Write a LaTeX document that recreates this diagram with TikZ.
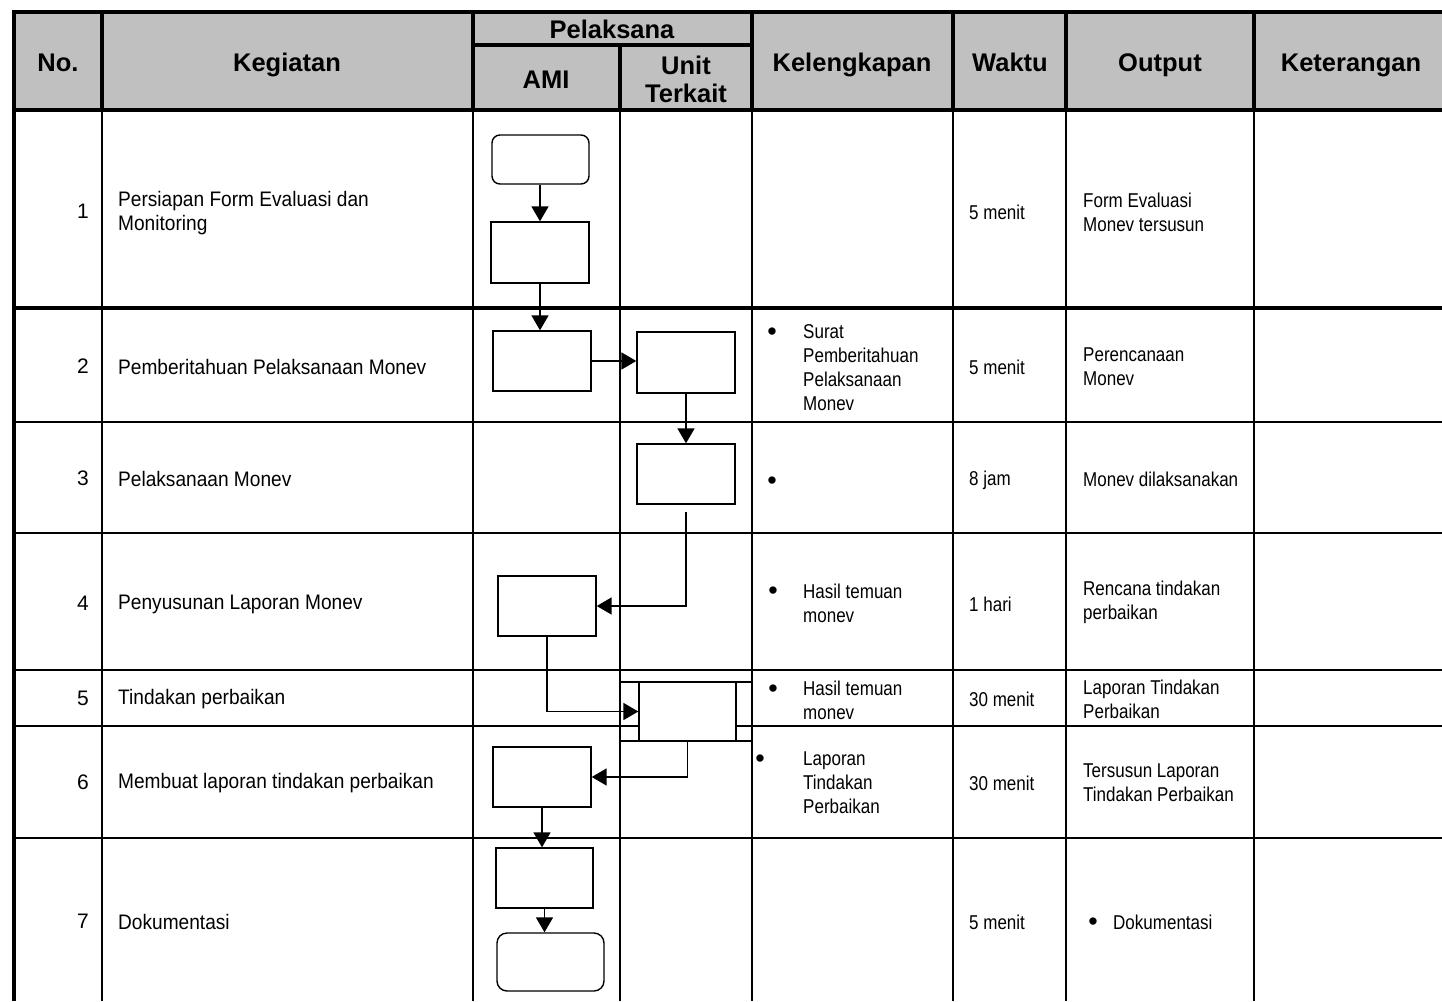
\documentclass[tikz,border=0pt]{standalone}
\usepackage{fontspec}
\setmainfont{Liberation Sans}
\newfontfamily\narrowfont{Liberation Sans}[FakeStretch=0.85]
\newfontfamily\kegfont{Liberation Sans}[FakeStretch=0.91]
\usetikzlibrary{arrows.meta}
\definecolor{hdrgray}{RGB}{192,192,192}

\tikzset{
  hdr/.style={font=\fontsize{25.5}{28}\selectfont\bfseries, align=center, inner sep=0},
  num/.style={font=\fontsize{21}{24}\selectfont, anchor=east, inner sep=0},
  keg/.style={font=\kegfont\fontsize{21}{24}\selectfont, anchor=west, align=left, inner sep=0},
  cell/.style={font=\narrowfont\fontsize{20}{24}\selectfont, anchor=west, align=left, inner sep=0},
  dot/.style={font=\fontsize{27}{30}\selectfont, anchor=base, inner sep=0},
  proc/.style={draw, line width=1.4pt, fill=white, minimum width=98pt, minimum height=60pt, inner sep=0},
  term/.style={proc, rounded corners=8pt},
  flow/.style={line width=1.8pt, -{Triangle[length=15pt,width=17pt]}},
  thickrule/.style={line width=3.2pt},
  rule/.style={line width=2.2pt},
}

\begin{document}
\begin{tikzpicture}[x=1pt, y=-1pt]
  \useasboundingbox (0,0) rectangle (1442,1001);
  \clip (0,0) rectangle (1442,1001);

  % table frame
  \fill[hdrgray] (14,12) rectangle (1449,110);
  \foreach \x in {102,473,620,752,953,1066,1254}
    \draw[rule] (\x,110) -- (\x,1001);
  \foreach \y in {422,533,670,726,838}
    \draw[rule] (14,\y) -- (1449,\y);
  \draw[thickrule] (14,308) -- (1449,308);
  \foreach \x in {102,473,752,953,1066,1254}
    \draw[thickrule] (\x,12) -- (\x,110);
  \draw[thickrule] (620,45) -- (620,110);
  \draw[thickrule] (473,45) -- (752,45);
  \draw[thickrule] (14,12) -- (1449,12);
  \draw[thickrule] (14,110) -- (1449,110);
  \draw[line width=3.5pt] (14,10) -- (14,1001);

  % header (single lines sit on the baseline)
  \node[hdr, anchor=base] (hno) at (58,71) {No.};
  \node[hdr, anchor=base] (hkeg) at (287,71) {Kegiatan};
  \node[hdr, anchor=base] (hpel) at (612,38) {Pelaksana};
  \node[hdr, anchor=base] (hami) at (546,88) {AMI};
  \node[hdr] (hunit) at (686,79) {Unit\\Terkait};
  \node[hdr, anchor=base] (hkel) at (852,71) {Kelengkapan};
  \node[hdr, anchor=base] (hwak) at (1010,71) {Waktu};
  \node[hdr, anchor=base] (hout) at (1160,71) {Output};
  \node[hdr, anchor=base] (hket) at (1351,71) {Keterangan};

  % no. and kegiatan
  \node[num] (n1) at (89,211) {1};
  \node[num] (n2) at (89,366) {2};
  \node[num] (n3) at (89,478) {3};
  \node[num] (n4) at (89,603) {4};
  \node[num] (n5) at (89,698) {5};
  \node[num] (n6) at (89,782) {6};
  \node[num] (n7) at (89,921) {7};
  \node[keg] (k1) at (118,213) {Persiapan Form Evaluasi dan\\Monitoring};
  \node[keg] (k2) at (118,367) {Pemberitahuan Pelaksanaan Monev};
  \node[keg] (k3) at (118,479) {Pelaksanaan Monev};
  \node[keg] (k4) at (118,604) {Penyusunan Laporan Monev};
  \node[keg] (k5) at (118,699) {Tindakan perbaikan};
  \node[keg] (k6) at (118,783) {Membuat laporan tindakan perbaikan};
  \node[keg] (k7) at (118,922) {Dokumentasi};

  % kelengkapan
  \node[dot] (d2) at (772,340) {\textbullet};
  \node[cell] (kl2) at (803,368) {Surat\\Pemberitahuan\\Pelaksanaan\\Monev};
  \node[dot] (d3) at (772,489) {\textbullet};
  \node[dot] (d4) at (773,599) {\textbullet};
  \node[cell] (kl4) at (803,603) {Hasil temuan\\monev};
  \node[dot] (d5) at (773,697) {\textbullet};
  \node[cell] (kl5) at (803,700) {Hasil temuan\\monev};
  \node[dot] (d6) at (760,767) {\textbullet};
  \node[cell] (kl6) at (803,783) {Laporan\\Tindakan\\Perbaikan};

  % waktu
  \node[cell] (w1) at (969,212) {5 menit};
  \node[cell] (w2) at (969,367) {5 menit};
  \node[cell] (w3) at (969,480) {8 jam};
  \node[cell] (w4) at (969,604) {1 hari};
  \node[cell] (w5) at (969,699) {30 menit};
  \node[cell] (w6) at (969,783) {30 menit};
  \node[cell] (w7) at (969,922) {5 menit};

  % output
  \node[cell] (o1) at (1083,212) {Form Evaluasi\\Monev tersusun};
  \node[cell] (o2) at (1083,367) {Perencanaan\\Monev};
  \node[cell] (o3) at (1083,479) {Monev dilaksanakan};
  \node[cell] (o4) at (1083,602) {Rencana tindakan\\perbaikan};
  \node[cell] (o5) at (1083,699) {Laporan Tindakan\\Perbaikan};
  \node[cell] (o6) at (1083,783) {Tersusun Laporan\\Tindakan Perbaikan};
  \node[dot] (d7) at (1093,930) {\textbullet};
  \node[cell] (o7) at (1113,922) {Dokumentasi};

  % flow boxes
  \draw[line width=1.4pt] (620,682) -- (752,682) (620,741) -- (752,741);
  \node[term, minimum width=97pt, minimum height=49pt] (start) at (540.5,159.5) {};
  \node[proc, minimum height=61pt] (b1a) at (540,252.5) {};
  \node[proc] (b2a) at (542,361) {};
  \node[proc, minimum height=61pt] (b2u) at (686,362.5) {};
  \node[proc] (b3u) at (686,474) {};
  \node[proc] (b4a) at (547,606) {};
  \node[proc, minimum width=97pt, minimum height=59pt] (b5u) at (687.5,711.5) {};
  \node[proc] (b6a) at (542,777) {};
  \node[proc, minimum width=97pt] (b7a) at (544.5,878) {};
  \node[term, rounded corners=10pt, minimum width=107pt, minimum height=58pt] (stop) at (550.5,962) {};

  \draw[flow] (start.south -| b1a.south) -- (b1a.north);
  \draw[flow] (b1a.south) -- (b1a.south |- b2a.north);
  \draw[flow] (b2a.east) -- (b2a.east -| b2u.west);
  \draw[flow] (b2u.south) -- (b3u.north);
  \draw[flow] ([yshift=-7pt]b3u.south) |- (b4a.east);
  \draw[flow] (b4a.south) |- (b5u.west);
  \draw[flow] (b5u.south) |- (b6a.east);
  \draw[flow] (b6a.south) -- (b6a.south |- b7a.north);
  \draw[flow] (b7a.south) -- (b7a.south |- stop.north);
\end{tikzpicture}
\end{document}
